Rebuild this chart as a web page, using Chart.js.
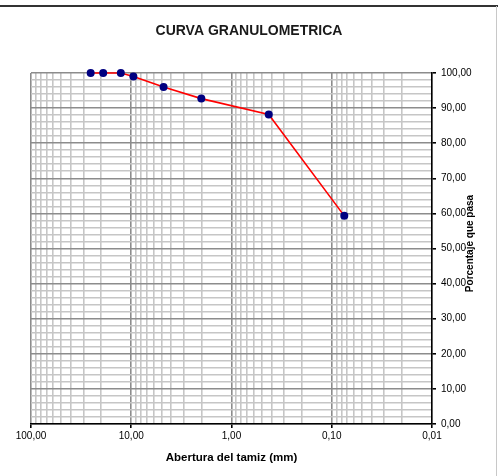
<!DOCTYPE html>
<html>
<head>
<meta charset="utf-8">
<script src="https://cdn.jsdelivr.net/npm/chart.js@4.4.1/dist/chart.umd.min.js"></script>
<style>
  html, body { margin: 0; padding: 0; background: #fff; }
  canvas { display: block; }
</style>
</head>
<body>
<canvas id="granulo" width="498" height="476"></canvas>
<script>
// Curva granulometrica: abertura (mm) vs porcentaje que pasa
const sieveOpenings = [25.4, 19.05, 12.7, 9.52, 4.76, 2.0, 0.425, 0.075];
const percentPassing = [100, 100, 100, 99.0, 96.0, 92.7, 88.2, 59.3];

const xMajorTicks = [100, 10, 1, 0.1, 0.01];
const xMinorSteps = [2, 3, 4, 5, 6, 7, 8, 9];
const yMin = 0, yMax = 100, yGridStep = 2, yLabelStep = 10;

const chartTitle = 'CURVA GRANULOMETRICA';
const xTitle = 'Abertura del tamiz (mm)';
const yTitle = 'Porcentaje que pasa';

const _major = '#8c8c8c', _minor = '#c6c6c6', _axis = '#000000';
const _red = '#ff0000', _navy = '#000080';

// grid values: every 1..9 in each decade
const xGrid = [];
xMajorTicks.forEach(d => {
  xGrid.push(d);
  if (d < 100) xMinorSteps.forEach(k => xGrid.push(+(d * k).toPrecision(6)));
});
const yGrid = [];
for (let v = yMin; v <= yMax; v += yGridStep) yGrid.push(v);

const isMajorX = v => xMajorTicks.some(m => Math.abs(m - v) / m < 1e-6);
const isMajorY = v => v % yLabelStep === 0;
const fmt = v => v.toFixed(2).replace('.', ',');

Chart.defaults.font.family = "'Liberation Sans', Arial, sans-serif";
Chart.defaults.color = '#000';

const framePlugin = {
  id: 'frame',
  beforeDraw(chart) {
    const c = chart.ctx;
    c.save();
    c.fillStyle = '#fff';
    c.fillRect(0, 0, chart.width, chart.height);
    c.restore();
  },
  afterDraw(chart) {
    const c = chart.ctx;
    const area = chart.chartArea;
    c.save();
    // outer frame
    c.strokeStyle = '#333';
    c.lineWidth = 2;
    c.beginPath(); c.moveTo(0, 6); c.lineTo(chart.width, 6); c.stroke();
    c.strokeStyle = '#c8c8c8';
    c.lineWidth = 1;
    c.beginPath(); c.moveTo(496.5, 6); c.lineTo(496.5, chart.height); c.stroke();
    // rotated y title, reading bottom to top
    c.translate(470, (area.top + area.bottom) / 2 - 5);
    c.rotate(-Math.PI / 2);
    c.font = "bold 10px 'Liberation Sans', Arial, sans-serif";
    c.fillStyle = '#000';
    c.textAlign = 'center';
    c.textBaseline = 'middle';
    c.fillText(yTitle, 0, 0);
    c.restore();
  }
};

new Chart(document.getElementById('granulo').getContext('2d'), {
  type: 'scatter',
  data: {
    datasets: [{
      data: sieveOpenings.map((x, i) => ({ x, y: percentPassing[i] })),
      showLine: true, clip: false,
      borderColor: _red, borderWidth: 1.6,
      pointRadius: 4, pointBackgroundColor: _navy, pointBorderColor: _navy,
      pointBorderWidth: 0
    }]
  },
  options: {
    responsive: false,
    animation: false,
    layout: { padding: 0 },
    plugins: {
      legend: { display: false },
      tooltip: { enabled: false },
      title: {
        display: true, text: chartTitle, color: '#1a1a1a',
        font: { size: 14, weight: 'bold' },
        padding: { top: 22.6, bottom: 33.6 }
      }
    },
    scales: {
      x: {
        type: 'logarithmic', reverse: true, min: 0.01, max: 100,
        afterBuildTicks: s => { s.ticks = xGrid.map(v => ({ value: v })); },
        afterFit: s => { s.height = 52; },
        ticks: {
          autoSkip: false, maxRotation: 0, padding: 2,
          font: { size: 10 }, color: '#000',
          callback: v => isMajorX(v) ? fmt(v) : ''
        },
        grid: {
          color: c => isMajorX(c.tick.value) ? _major : _minor,
          tickColor: c => isMajorX(c.tick.value) ? _axis : 'rgba(0,0,0,0)',
          tickLength: 4, lineWidth: 1.6
        },
        border: { color: _axis, width: 1.5 },
        title: {
          display: true, text: xTitle, color: '#000',
          font: { size: 11.5, weight: 'bold' },
          padding: { top: 0, bottom: 11 }
        }
      },
      y: {
        position: 'right', min: yMin, max: yMax,
        afterBuildTicks: s => { s.ticks = yGrid.map(v => ({ value: v })); },
        afterFit: s => { s.width = 66; },
        ticks: {
          autoSkip: false, padding: 5,
          font: { size: 10 }, color: '#000',
          callback: v => isMajorY(v) ? fmt(v) : ''
        },
        grid: {
          color: c => isMajorY(c.tick.value) ? _major : _minor,
          tickColor: c => isMajorY(c.tick.value) ? _axis : 'rgba(0,0,0,0)',
          tickLength: 4, lineWidth: 1.6
        },
        border: { color: _axis, width: 1.5 }
      },
      // empty left axis, only reserves the left margin
      yLeft: {
        position: 'left', min: yMin, max: yMax,
        afterFit: s => { s.width = 31; },
        ticks: { display: false },
        grid: { display: false, drawTicks: false },
        border: { display: false }
      }
    }
  },
  plugins: [framePlugin]
});
</script>
</body>
</html>
